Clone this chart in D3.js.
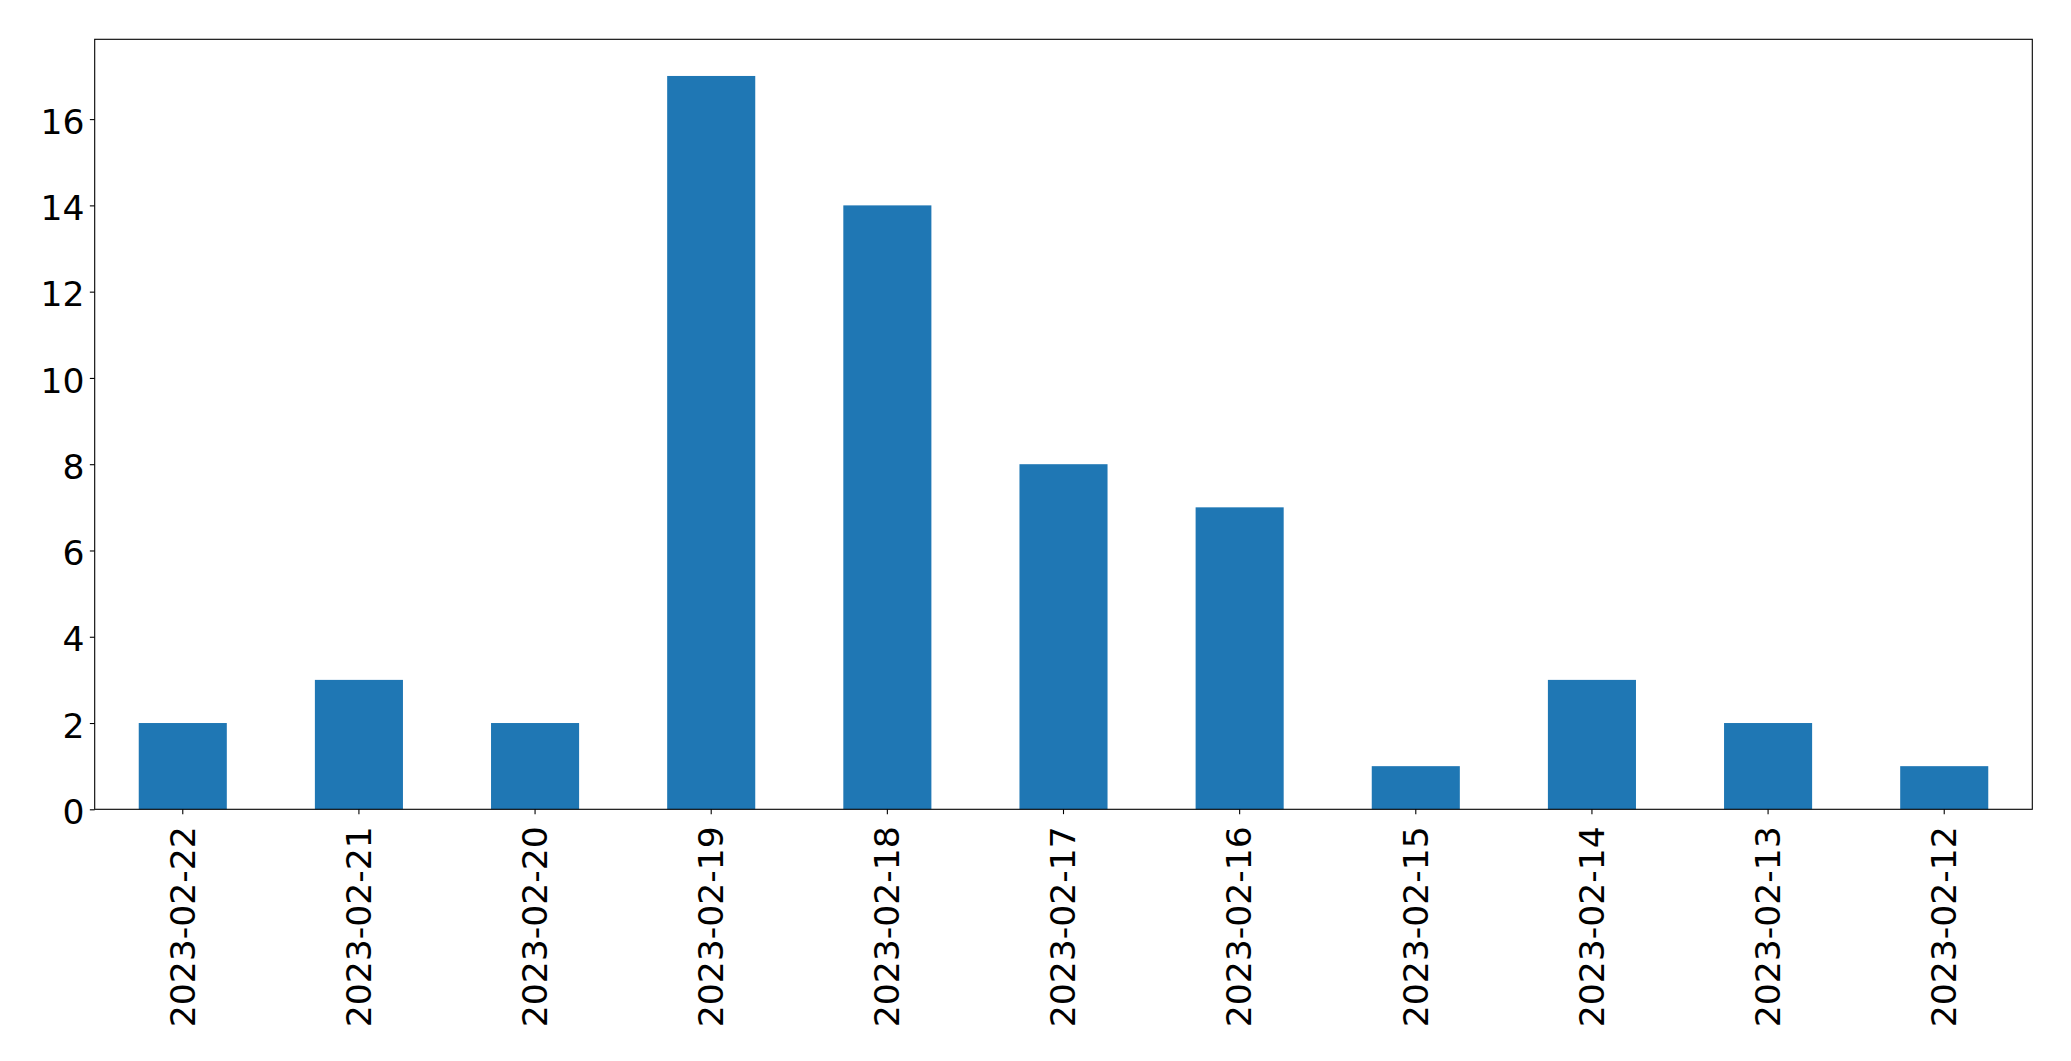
<!DOCTYPE html>
<html>
<head>
<meta charset="utf-8">
<script src="https://cdn.jsdelivr.net/npm/d3@7"></script>
<style>
html, body { margin: 0; padding: 0; background: #fff; }
svg { display: block; }
text { font-family: "DejaVu Sans", sans-serif; fill: #000; }
</style>
</head>
<body>
<script>
const categories = ["2023-02-22","2023-02-21","2023-02-20","2023-02-19","2023-02-18","2023-02-17","2023-02-16","2023-02-15","2023-02-14","2023-02-13","2023-02-12"];
const values = [2, 3, 2, 17, 14, 8, 7, 1, 3, 2, 1];
const yTicks = [0, 2, 4, 6, 8, 10, 12, 14, 16];

(function () {
const W = 2071, H = 1061;
const mLeft = 94.7, mRight = 2032.3, mTop = 39.3, mBottom = 809.3;
const fontPx = 34.6;
const tickLen = 4.86, tickPad = 4.86;

const svg = d3.select("body").append("svg").attr("width", W).attr("height", H);

const x = d3.scaleBand().domain(categories).range([mLeft, mRight]).paddingInner(0.5).paddingOuter(0.25);
const yMax = d3.max(values) * 1.05;
const y = d3.scaleLinear().domain([0, yMax]).range([mBottom, mTop]);

svg.append("g").selectAll("rect").data(values).join("rect")
  .attr("x", (d, i) => x(categories[i]))
  .attr("width", x.bandwidth())
  .attr("y", d => y(d))
  .attr("height", d => y(0) - y(d))
  .attr("fill", "#1f77b4");

// Y axis
const yAxis = d3.axisLeft(y).tickValues(yTicks).tickSize(tickLen).tickPadding(tickPad + 0.5).tickFormat(d3.format("d"));
const gy = svg.append("g").attr("transform", `translate(${mLeft},0)`).call(yAxis);
gy.select(".domain").remove();
gy.selectAll(".tick line").attr("stroke", "#000").attr("stroke-width", 1.1);
gy.selectAll(".tick text").attr("font-size", fontPx).attr("font-family", "DejaVu Sans").attr("dy", "0.41em");

// X axis
const xAxis = d3.axisBottom(x).tickSize(tickLen).tickPadding(tickPad);
const gx = svg.append("g").attr("transform", `translate(0,${mBottom})`).call(xAxis);
gx.select(".domain").remove();
gx.selectAll(".tick line").attr("stroke", "#000").attr("stroke-width", 1.1);
gx.selectAll(".tick text")
  .attr("font-size", fontPx).attr("font-family", "DejaVu Sans")
  .attr("text-anchor", "end")
  .attr("transform", "rotate(-90)")
  .attr("x", -17)
  .attr("y", 0)
  .attr("dy", "0.34em");

// Frame
svg.append("rect")
  .attr("x", mLeft).attr("y", mTop)
  .attr("width", mRight - mLeft).attr("height", mBottom - mTop)
  .attr("fill", "none").attr("stroke", "#000").attr("stroke-width", 1.1);
})();
</script>
</body>
</html>
